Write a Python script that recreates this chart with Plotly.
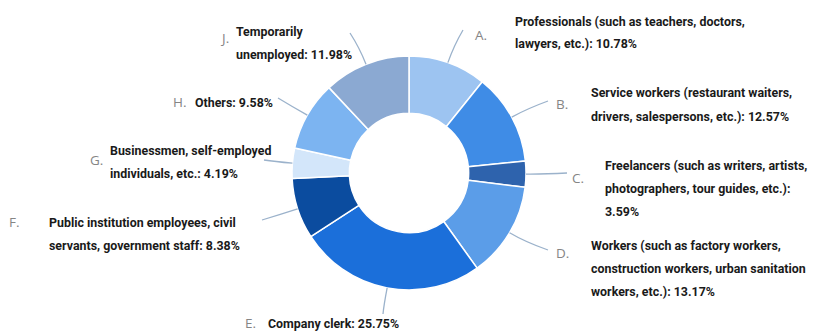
import math
import plotly.graph_objects as go

# ---- data ----
letters = ["A.", "B.", "C.", "D.", "E.", "F.", "G.", "H.", "J."]
categories = [
    "Professionals (such as teachers, doctors, lawyers, etc.)",
    "Service workers (restaurant waiters, drivers, salespersons, etc.)",
    "Freelancers (such as writers, artists, photographers, tour guides, etc.)",
    "Workers (such as factory workers, construction workers, urban sanitation workers, etc.)",
    "Company clerk",
    "Public institution employees, civil servants, government staff",
    "Businessmen, self-employed individuals, etc.",
    "Others",
    "Temporarily unemployed",
]
values = [10.78, 12.57, 3.59, 13.17, 25.75, 8.38, 4.19, 9.58, 11.98]
label_lines = [
    ["Professionals (such as teachers, doctors,", "lawyers, etc.): 10.78%"],
    ["Service workers (restaurant waiters,", "drivers, salespersons, etc.): 12.57%"],
    ["Freelancers (such as writers, artists,", "photographers, tour guides, etc.):", "3.59%"],
    ["Workers (such as factory workers,", "construction workers, urban sanitation", "workers, etc.): 13.17%"],
    ["Company clerk: 25.75%"],
    ["Public institution employees, civil", "servants, government staff: 8.38%"],
    ["Businessmen, self-employed", "individuals, etc.: 4.19%"],
    ["Others: 9.58%"],
    ["Temporarily", "unemployed: 11.98%"],
]
colors = ["#9DC4F1", "#3F8CE6", "#2E63AD", "#5B9DE8", "#1B6FDA",
          "#0B4C9F", "#D3E6FA", "#7CB4F1", "#8BA9D2"]

# ---- layout (pixels) ----
W, H = 820, 332
CX, CY, R = 409, 173, 117
HOLE = 0.51

letter_pos = [(481, 35), (562, 104), (578, 178), (562, 253), (250, 323),
              (15, 222), (96, 160), (180, 102), (224, 38)]
text_pos = [(513, 21), (589, 93), (603, 165), (589, 245), (266, 323),
            (47, 222), (108, 150), (193, 102), (234, 31)]
line_gap = 23
leader_end = [(463, 30), (548, 101), (567, 173), (548, 250), (383, 314),
              (262, 220), (264, 160), (278, 98), (350, 33)]

def px(x):
    return x / W

def py(y):
    return 1 - y / H

fig = go.Figure(go.Pie(
    labels=categories,
    values=values,
    hole=HOLE,
    sort=False,
    direction="clockwise",
    rotation=0,
    marker=dict(colors=colors, line=dict(color="white", width=1.5)),
    textinfo="none",
    hoverinfo="label+percent",
    domain=dict(x=[px(CX - R), px(CX + R)], y=[py(CY + R), py(CY - R)]),
    showlegend=False,
))

FONT = "Roboto, Arial, sans-serif"
annotations = []
shapes = []
total = sum(values)
cum = 0.0
for i, v in enumerate(values):
    mid = (cum + v / 2) / total * 2 * math.pi
    cum += v
    ux, uy = math.sin(mid), -math.cos(mid)
    sx, sy = CX + R * ux, CY + R * uy
    cx_, cy_ = CX + (R + 18) * ux, CY + (R + 18) * uy
    ex, ey = leader_end[i]
    shapes.append(dict(
        type="path", xref="paper", yref="paper",
        path=f"M {px(sx)},{py(sy)} Q {px(cx_)},{py(cy_)} {px(ex)},{py(ey)}",
        line=dict(color="#9BB2CB", width=1.3),
    ))
    lx, ly = letter_pos[i]
    annotations.append(dict(
        x=px(lx), y=py(ly), xref="paper", yref="paper", text=letters[i],
        showarrow=False, xanchor="center", yanchor="middle",
        font=dict(family="Open Sans, sans-serif", size=13.5, color="#858585"),
    ))
    tx, ty = text_pos[i]
    for j, line in enumerate(label_lines[i]):
        annotations.append(dict(
            x=px(tx), y=py(ty + j * line_gap), xref="paper", yref="paper",
            text=f"<b>{line}</b>", showarrow=False,
            xanchor="left", yanchor="middle",
            font=dict(family=FONT, size=12.4, color="#1A1A1A"),
        ))

fig.update_layout(
    width=W, height=H,
    margin=dict(l=0, r=0, t=0, b=0),
    paper_bgcolor="white", plot_bgcolor="white",
    annotations=annotations, shapes=shapes,
)

fig.write_html("out.html")
